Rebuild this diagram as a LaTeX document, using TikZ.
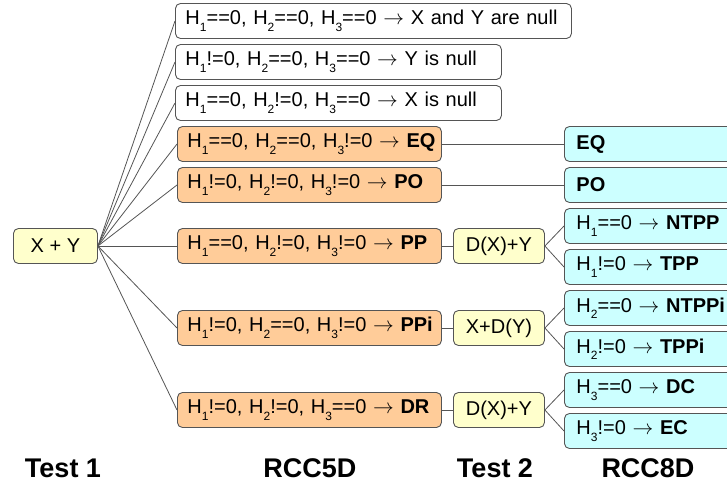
\documentclass[tikz,border=0pt]{standalone}
\usepackage{fontspec}
\setmainfont{Liberation Sans}
\definecolor{peach}{HTML}{FFCC99}
\definecolor{cream}{HTML}{FFFFCC}
\definecolor{aqua}{HTML}{CCFFFF}
\definecolor{edge}{HTML}{555555}
\newcommand{\Hs}[1]{H\raisebox{-6.5pt}{\fontsize{12}{12}\selectfont #1}}
\newcommand{\To}{\ $\rightarrow$\ }
\tikzset{
  box/.style={draw=edge, line width=0.9pt, rounded corners=5pt, minimum height=35pt, inner xsep=10pt, inner ysep=2pt, anchor=west},
  plain/.style={box, fill=white, align=left},
  rcc5/.style={box, fill=peach, text width=244pt, align=left},
  test/.style={box, fill=cream, minimum width=91pt, inner xsep=4pt, align=center},
  rcc8/.style={box, fill=aqua, text width=160pt, inner xsep=12pt, align=left},
  link/.style={draw=edge, line width=0.8pt},
  title/.style={font=\fontsize{27}{30}\selectfont\bfseries, anchor=center}
}
\begin{document}
\begin{tikzpicture}[x=1pt,y=-1pt,font=\fontsize{20}{24}\selectfont]
\clip (0,0) rectangle (727,487);
\node[test, minimum width=84pt] (xy) at (13,246) {X + Y};
% RCC5D column
\node[plain, text width=376pt] (h1) at (175,21) {\mbox{\Hs1==0, \Hs2==0, \Hs3==0\To X and Y are null}};
\node[plain, text width=306pt] (h2) at (175,62) {\mbox{\Hs1!=0, \Hs2==0, \Hs3==0\To Y is null}};
\node[plain, text width=306pt] (h3) at (175,103) {\mbox{\Hs1==0, \Hs2!=0, \Hs3==0\To X is null}};
\node[rcc5] (h4) at (177,144) {\mbox{\Hs1==0, \Hs2==0, \Hs3!=0\To\textbf{EQ}}};
\node[rcc5] (h5) at (177,185) {\mbox{\Hs1!=0, \Hs2!=0, \Hs3!=0\To\textbf{PO}}};
\node[rcc5] (h6) at (177,246) {\mbox{\Hs1==0, \Hs2!=0, \Hs3!=0\To\textbf{PP}}};
\node[rcc5] (h7) at (177,328) {\mbox{\Hs1!=0, \Hs2==0, \Hs3!=0\To\textbf{PPi}}};
\node[rcc5] (h8) at (177,410) {\mbox{\Hs1!=0, \Hs2!=0, \Hs3==0\To\textbf{DR}}};
% Test 2 column
\node[test] (d1) at (453,246) {D(X)+Y};
\node[test] (d2) at (453,328) {X+D(Y)};
\node[test] (d3) at (453,410) {D(X)+Y};
% RCC8D column
\node[rcc8] (r1) at (564,144) {\textbf{EQ}};
\node[rcc8] (r2) at (564,185) {\textbf{PO}};
\node[rcc8] (r3) at (564,226) {\mbox{\Hs1==0\To\textbf{NTPP}}};
\node[rcc8] (r4) at (564,267) {\mbox{\Hs1!=0\To\textbf{TPP}}};
\node[rcc8] (r5) at (564,308) {\mbox{\Hs2==0\To\textbf{NTPPi}}};
\node[rcc8] (r6) at (564,349) {\mbox{\Hs2!=0\To\textbf{TPPi}}};
\node[rcc8] (r7) at (564,390) {\mbox{\Hs3==0\To\textbf{DC}}};
\node[rcc8] (r8) at (564,431) {\mbox{\Hs3!=0\To\textbf{EC}}};
\foreach \n in {h1,h2,h3,h4,h5,h6,h7,h8} \path[link] (xy.east) -- (\n.west);
\path[link] (h4.east) -- (r1.west);
\path[link] (h5.east) -- (r2.west);
\path[link] (h6.east) -- (d1.west); \path[link] (h7.east) -- (d2.west); \path[link] (h8.east) -- (d3.west);
\path[link] (r3.west) -- (d1.east) -- (r4.west);
\path[link] (r5.west) -- (d2.east) -- (r6.west);
\path[link] (r7.west) -- (d3.east) -- (r8.west);
\node[title] (l1) at (63,468) {Test 1};
\node[title] (l2) at (310,468) {RCC5D};
\node[title] (l3) at (495,468) {Test 2};
\node[title] (l4) at (648,468) {RCC8D};
\end{tikzpicture}
\end{document}
